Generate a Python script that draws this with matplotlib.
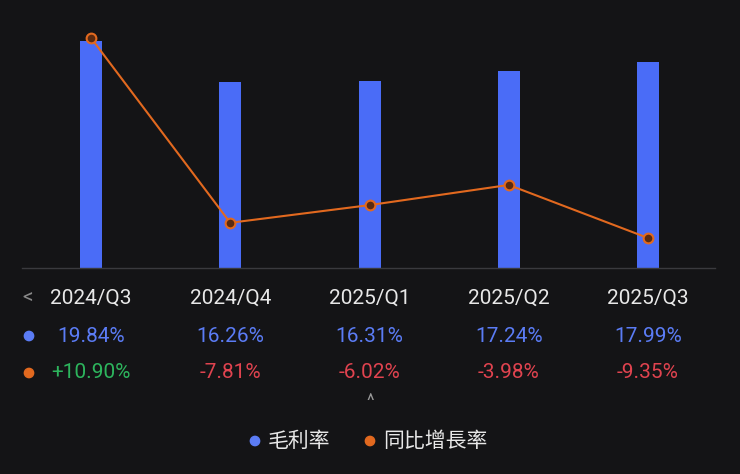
import matplotlib
matplotlib.use("Agg")
import matplotlib.pyplot as plt

plt.rcParams['font.family'] = ['Roboto', 'Noto Sans CJK TC', 'DejaVu Sans']

quarters = ["2024/Q3", "2024/Q4", "2025/Q1", "2025/Q2", "2025/Q3"]
gross_margin = [19.84, 16.26, 16.31, 17.24, 17.99]
yoy_growth = [10.90, -7.81, -6.02, -3.98, -9.35]
gm_labels = ["19.84%", "16.26%", "16.31%", "17.24%", "17.99%"]
yoy_labels = ["+10.90%", "-7.81%", "-6.02%", "-3.98%", "-9.35%"]
legend_names = ["毛利率", "同比增長率"]

BG = "#141416"
BLUE = "#4a6cf7"
ORANGE = "#e2691f"
GREEN = "#2db55d"
RED = "#e0434f"
W, H = 740, 474

fig = plt.figure(figsize=(7.4, 4.74), dpi=100, facecolor=BG)
base = 268
ax = fig.add_axes([0, (H - base) / H, 1, base / H])
ax.set_facecolor(BG)
x = list(range(len(quarters)))
step = 139.25
ax.set_xlim(-91 / step, (W - 91) / step)
ax.set_ylim(0, base / 11.44)
ax.bar(x, gross_margin, width=22 / step, color=BLUE, zorder=2)
ax.axis('off')
ax.plot([22 / W, 715 / W], [0.001, 0.001], transform=ax.transAxes, color="#3a3a3e", lw=1, clip_on=False)

ax2 = ax.twinx()
ax2.set_xlim(ax.get_xlim())
ymin = -9.35 - 30 / 9.88
ax2.set_ylim(ymin, ymin + base / 9.88)
ax2.plot(x, yoy_growth, color=ORANGE, lw=1.5, marker='o', ms=7,
         markerfacecolor="#5a2a10", markeredgecolor=ORANGE, mew=1.5, zorder=3)
ax2.axis('off')

def fx(i):
    return (91 + i * step) / W

def fy(py):
    return 1 - py / H

for i, q in enumerate(quarters):
    fig.text(fx(i), fy(298), q, color="#e8e8e8", fontsize=15, ha='center', va='center')
    fig.text(fx(i), fy(336), gm_labels[i], color="#5b7cf5", fontsize=15, ha='center', va='center')
    c = GREEN if yoy_growth[i] >= 0 else RED
    fig.text(fx(i), fy(373), yoy_labels[i], color=c, fontsize=15, ha='center', va='center')

fig.text(28 / W, fy(298), "<", color="#888888", fontsize=15, ha='center', va='center')
fig.text(370 / W, fy(402), "^", color="#999999", fontsize=13, ha='center', va='center')
dots = fig.add_axes([0, 0, 1, 1], facecolor='none')
dots.set_xlim(0, W); dots.set_ylim(H, 0); dots.axis('off')
dots.scatter([29, 29, 255, 370], [336, 373, 441, 441], s=45,
             color=["#5b7cf5", ORANGE, "#5b7cf5", ORANGE])
fig.text(268 / W, fy(441), legend_names[0], color="#e8e8e8", fontsize=15, va='center')
fig.text(383 / W, fy(441), legend_names[1], color="#e8e8e8", fontsize=15, va='center')

fig.savefig("out.png", dpi=100, facecolor=BG)
